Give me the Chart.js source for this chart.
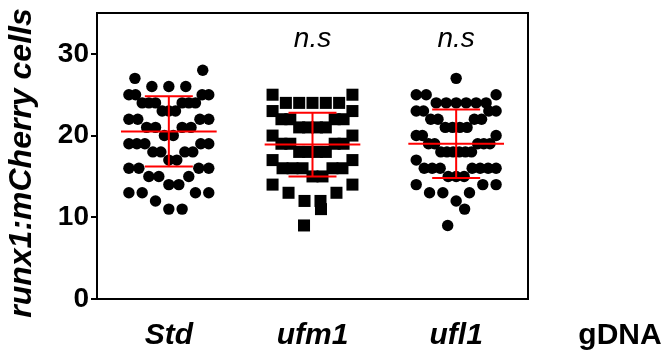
<!DOCTYPE html>
<html><head><meta charset="utf-8">
<script src="https://cdn.jsdelivr.net/npm/chart.js@4/dist/chart.umd.min.js"></script>
<style>html,body{margin:0;padding:0;background:#fff}#wrap{width:665px;height:358px;position:relative}</style>
</head><body><div id="wrap"><canvas id="c" width="665" height="358"></canvas></div>
<script>
// ---- data ----
const categories = ["Std", "ufm1", "ufl1"];
const stdValues  = [11,11,12,13,13,13,13,14,14,15,15,15,16,16,16,16,17,17,18,18,18,18,19,19,19,19,19,20,20,21,21,21,21,22,22,22,22,23,23,23,24,24,24,24,24,24,25,25,25,25,26,26,26,27,28];
const ufm1Values = [9,11,12,12,13,13,14,14,15,15,16,16,16,16,16,17,17,18,18,18,18,19,19,19,19,20,20,21,21,21,21,22,22,22,22,23,23,24,24,24,24,24,25,25];
const ufl1Values = [9,11,12,13,13,13,14,14,14,15,15,15,16,16,16,16,16,16,16,17,18,18,18,18,18,18,19,19,19,19,19,20,20,20,21,21,21,21,22,22,22,22,23,23,23,23,24,24,24,24,24,24,25,25,25,27];
const groupMeans = [20.5, 18.9, 19.0];
const groupSDs   = [4.3, 3.9, 4.2];
const significance = ["", "n.s", "n.s"];
const yTicks = [0, 10, 20, 30];
const yTitle = "runx1:mCherry cells";
const extraLabel = "gDNA";

// ---- layout constants (category units) ----
const BIN = 3, HALF_SPREAD = 0.278, MAX_STEP = 0.118;
const MEAN_HALF = 0.333, CAP_HALF = 0.167;

function swarm(values, gi) {
  const min = Math.min(...values);
  const bins = {};
  values.forEach(v => { const b = Math.floor((v - min) / BIN); (bins[b] = bins[b] || []).push(v); });
  const pts = [];
  Object.keys(bins).forEach(key => {
    const arr = bins[key].slice().sort((a, b) => a - b);
    const n = arr.length;
    const s = n > 1 ? Math.min(MAX_STEP, 2 * HALF_SPREAD / (n - 1)) : 0;
    const slots = [];
    if (n % 2) {
      slots.push(0);
      for (let k = 1; slots.length < n; k++) slots.push(...(k % 2 ? [k * s, -k * s] : [-k * s, k * s]));
    } else {
      for (let k = 1; slots.length < n; k++) { const o = (k - 0.5) * s; slots.push(...(k % 2 ? [-o, o] : [o, -o])); }
    }
    arr.forEach((v, i) => pts.push({ x: gi + 1 + slots[i], y: v }));
  });
  return pts;
}

const errPts = [];
groupMeans.forEach((m, i) => {
  const x = i + 1, sd = groupSDs[i];
  errPts.push({x: x - MEAN_HALF, y: m}, {x: x + MEAN_HALF, y: m}, {x: x, y: null});
  errPts.push({x: x, y: m - sd}, {x: x, y: m + sd}, {x: x, y: null});
  errPts.push({x: x - CAP_HALF, y: m + sd}, {x: x + CAP_HALF, y: m + sd}, {x: x, y: null});
  errPts.push({x: x - CAP_HALF, y: m - sd}, {x: x + CAP_HALF, y: m - sd}, {x: x, y: null});
});

const FONT = "'Liberation Sans', Arial, sans-serif";

const extras = {
  id: 'extras',
  afterDraw(chart) {
    const ctx = chart.ctx, a = chart.chartArea, xs = chart.scales.x;
    ctx.save();
    ctx.strokeStyle = '#000'; ctx.lineWidth = 2;
    ctx.beginPath();
    ctx.moveTo(a.left, a.top); ctx.lineTo(a.right, a.top); ctx.lineTo(a.right, a.bottom);
    ctx.stroke();
    ctx.fillStyle = '#000';
    ctx.textAlign = 'center'; ctx.textBaseline = 'alphabetic';
    ctx.font = "italic 28px " + FONT;
    significance.forEach((t, i) => { if (t) ctx.fillText(t, xs.getPixelForValue(i + 1), 47); });
    ctx.font = "bold 30px " + FONT;
    ctx.textBaseline = 'middle';
    ctx.fillText(extraLabel, a.right + 92, 336);
    // y axis title
    ctx.save();
    ctx.translate(22, (a.top + a.bottom) / 2 + 7);
    ctx.rotate(-Math.PI / 2);
    ctx.font = "italic bold 32px " + FONT;
    ctx.textBaseline = 'middle';
    ctx.fillText(yTitle, 0, 0);
    ctx.restore();
    ctx.restore();
  }
};

new Chart(document.getElementById('c'), {
  type: 'scatter',
  data: {
    datasets: [
      { data: errPts, showLine: true, spanGaps: false, borderColor: '#ff0000', borderWidth: 2, pointRadius: 0, order: 0 },
      { data: swarm(stdValues, 0), pointStyle: 'circle', pointRadius: 5.7, backgroundColor: '#000', borderWidth: 0, order: 1 },
      { data: swarm(ufm1Values, 1), pointStyle: 'rect', pointRadius: 8.5, backgroundColor: '#000', borderWidth: 0, order: 1 },
      { data: swarm(ufl1Values, 2), pointStyle: 'circle', pointRadius: 5.7, backgroundColor: '#000', borderWidth: 0, order: 1 }
    ]
  },
  options: {
    responsive: false, animation: false, events: [],
    layout: { padding: { top: 13, right: 137, left: 0, bottom: 0 } },
    plugins: { legend: { display: false }, tooltip: { enabled: false } },
    scales: {
      x: {
        type: 'linear', min: 0.5, max: 3.5,
        afterBuildTicks: s => { s.ticks = categories.map((c, i) => ({ value: i + 1 })); },
        afterFit: s => { s.height = 59; s.paddingLeft = 0; s.paddingRight = 0; },
        ticks: { callback: v => categories[v - 1], color: '#000', font: { family: FONT, size: 30, weight: 'bold', style: 'italic' }, padding: 19, maxRotation: 0, autoSkip: false },
        grid: { display: false, drawTicks: false },
        border: { display: true, color: '#000', width: 2 }
      },
      y: {
        min: 0, max: 35,
        afterBuildTicks: s => { s.ticks = yTicks.map(v => ({ value: v })); },
        afterFit: s => { s.width = 97; s.paddingTop = 0; s.paddingBottom = 0; },
        ticks: { color: '#000', font: { family: FONT, size: 28, weight: 'bold' }, padding: 2 },
        grid: { display: true, drawOnChartArea: false, drawTicks: true, tickLength: 6, color: '#000', lineWidth: 2 },
        border: { display: true, color: '#000', width: 2 },
        title: { display: false }
      }
    }
  },
  plugins: [extras]
});
</script></body></html>
